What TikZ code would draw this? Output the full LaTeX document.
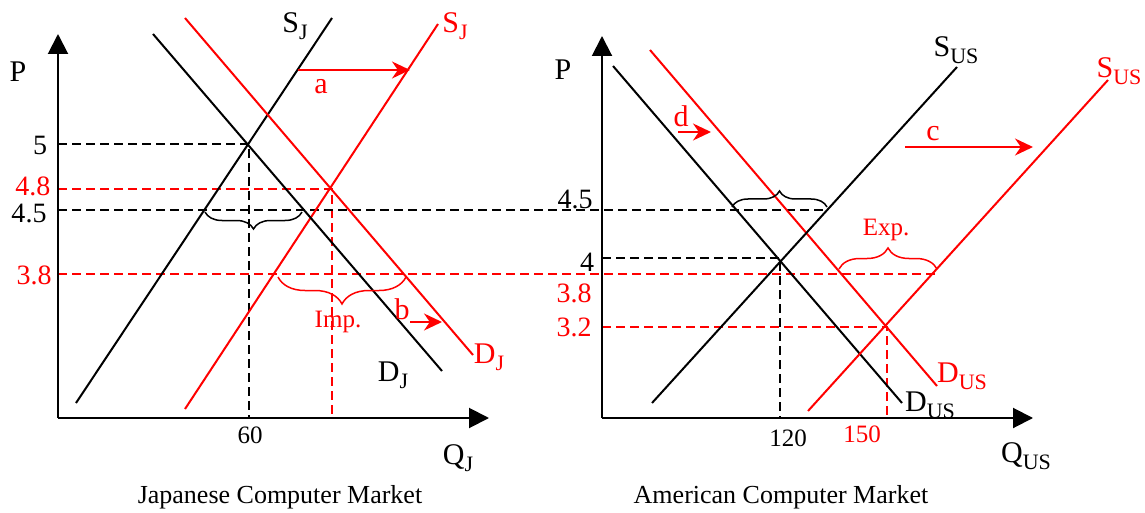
\documentclass[tikz,border=0pt]{standalone}
\usepackage{fontspec}
\setmainfont{Liberation Serif}
\usetikzlibrary{arrows.meta,decorations.pathreplacing}
\newcommand\subtxt[1]{\raisebox{-0.22em}{\fontsize{22}{22}\selectfont #1}}
\begin{document}
\begin{tikzpicture}[x=1pt,y=-1pt,
  curve/.style={line width=2pt},
  axisline/.style={line width=2pt,-{Triangle[length=20pt,width=20pt]}},
  guide/.style={line width=1.5pt,dash pattern=on 9pt off 5pt},
  shiftarrow/.style={red,line width=2pt,-{Stealth[length=18pt,width=17pt]}},
  lbl/.style={inner sep=0pt,font=\fontsize{30}{30}\selectfont},
  ticklbl/.style={inner sep=0pt,font=\fontsize{28}{28}\selectfont},
  smalllbl/.style={inner sep=0pt,font=\fontsize{25}{25}\selectfont},
  captionlbl/.style={inner sep=0pt,font=\fontsize{26}{26}\selectfont},
  bracedown/.style={decorate,decoration={brace,mirror,amplitude=#1},line width=1.5pt},
  braceup/.style={decorate,decoration={brace,amplitude=#1},line width=1.5pt},
]
\useasboundingbox (0,0) rectangle (1145,513);

% ---------- coordinates ----------
% left panel
\coordinate (LO) at (58,418);
\coordinate (LPtop) at (58,34);
\coordinate (LQend) at (489,418);
\coordinate (E1) at (249,144);
\coordinate (E2) at (332,189);
% right panel
\coordinate (RO) at (602,418);
\coordinate (RPtop) at (602,36);
\coordinate (RQend) at (1033,418);
\coordinate (E3) at (780,258);
\coordinate (E4) at (887,327);

% ---------- dashed guides ----------
\draw[guide] (58,144) -- (E1) -- (249,418);
\draw[guide,red] (58,189) -- (E2) -- (332,418);
\draw[guide] (58,210) -- (827,210);
\draw[guide,red] (58,274) -- (937,274);
\draw[guide] (602,258) -- (E3) -- (780,418);
\draw[guide,red] (602,327) -- (E4) -- (887,418);

% ---------- axes ----------
\draw[axisline] (LO) -- (LPtop);
\draw[axisline] (LO) -- (LQend);
\draw[axisline] (RO) -- (RPtop);
\draw[axisline] (RO) -- (RQend);

% ---------- curves, left ----------
\draw[curve] (76,403) -- (332,18);
\draw[curve,red] (185,409) -- (438,24);
\draw[curve] (153,34) -- (442,371);
\draw[curve,red] (185,18) -- (473,355);
% ---------- curves, right ----------
\draw[curve] (613,66) -- (902,403);
\draw[curve,red] (650,50) -- (937,386);
\draw[curve] (652,403) -- (957,67);
\draw[curve,red] (808,411) -- (1108,80);

% ---------- shift arrows ----------
\draw[shiftarrow] (298,70) -- (410,70);
\draw[shiftarrow] (410,322) -- (442,322);
\draw[shiftarrow] (905,147) -- (1033,147);
\draw[shiftarrow] (678,132) -- (711,132);

% ---------- braces ----------
\draw[bracedown=17pt] (205,212) -- (302,212);
\draw[bracedown=27pt,red] (278,277) -- (406,277);
\draw[braceup=16pt] (732,207) -- (827,207);
\draw[braceup=21pt,red] (839,269) -- (937,269);

% ---------- labels, left ----------
\node[lbl] (pl) at (18,72) {P};
\node[ticklbl] (t5) at (40,145) {5};
\node[ticklbl,red] (t48) at (33,186) {4.8};
\node[ticklbl] (t45l) at (29,213) {4.5};
\node[ticklbl,red] (t38l) at (34,275) {3.8};
\node[smalllbl] (t60) at (250,435) {60};
\node[lbl] (qj) at (458,458) {Q\subtxt{J}};
\node[lbl] (sjb) at (295,26) {S\subtxt{J}};
\node[lbl,red] (sjr) at (455,26) {S\subtxt{J}};
\node[lbl,red] (la) at (321,87) {a};
\node[lbl,red] (lb) at (402,309) {b};
\node[smalllbl,red] (imp) at (338,322) {Imp.};
\node[lbl] (djb) at (393,375) {D\subtxt{J}};
\node[lbl,red] (djr) at (489,357) {D\subtxt{J}};
\node[captionlbl] (capl) at (280,497) {Japanese Computer Market};

% ---------- labels, right ----------
\node[lbl] (pr) at (563,70) {P};
\node[ticklbl] (t45r) at (575,199) {4.5};
\node[ticklbl] (t4) at (587,262) {4};
\node[ticklbl,red] (t38r) at (574,293) {3.8};
\node[ticklbl,red] (t32) at (574,327) {3.2};
\node[smalllbl] (t120) at (788,438) {120};
\node[smalllbl,red] (t150) at (862,434) {150};
\node[lbl,red] (ld) at (681,116) {d};
\node[lbl,red] (lc) at (933,134) {c};
\node[smalllbl,red] (exp) at (886,230) {Exp.};
\node[lbl] (susb) at (956,50) {S\subtxt{US}};
\node[lbl,red] (susr) at (1119,71) {S\subtxt{US}};
\node[lbl,red] (dusr) at (962,376) {D\subtxt{US}};
\node[lbl] (dusb) at (930,405) {D\subtxt{US}};
\node[lbl] (qus) at (1026,456) {Q\subtxt{US}};
\node[captionlbl] (capr) at (781,497) {American Computer Market};
\end{tikzpicture}
\end{document}
